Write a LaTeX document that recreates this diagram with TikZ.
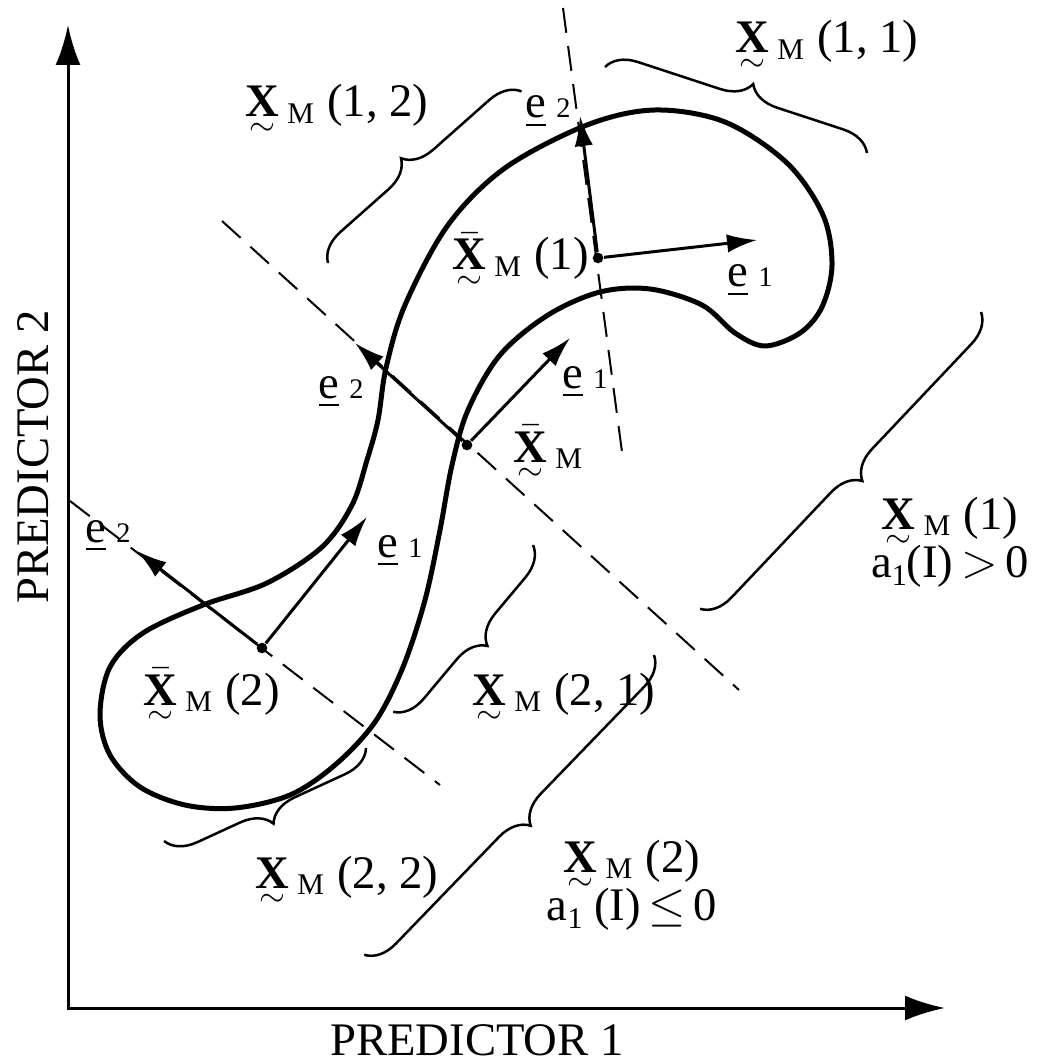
\documentclass[tikz,border=0pt]{standalone}
\usepackage{amsmath}
\usepackage{fontspec}
\setmainfont{Liberation Serif}
\usetikzlibrary{arrows.meta,decorations.pathreplacing}

\newcommand{\tld}[1]{\leavevmode\setbox0\hbox{#1}\rlap{\hbox to\wd0{\hss\raisebox{-5.6pt}[0pt][0pt]{$\scriptstyle\sim$}\hss}}\box0}
\newcommand{\tX}{\tld{\textbf{X}}}
\newcommand{\tXb}{\tld{$\bar{\textbf{X}}$}}
\newcommand{\sM}{\hspace{2.4pt}\raisebox{-2pt}{\fontsize{9}{9}\selectfont M}\hspace{4pt}}
\newcommand{\ev}[1]{\underline{e}\hspace{3pt}{\fontsize{8.5}{9}\selectfont #1}}
\newcommand{\aI}{a\raisebox{-2.5pt}{\fontsize{9}{9}\selectfont 1}}

\begin{document}
\begin{tikzpicture}[x=0.3pt,y=-0.3pt,
  lab/.style={font=\fontsize{14}{14.4}\selectfont,inner sep=0pt,anchor=base west},
  ctr/.style={circle,fill,inner sep=0pt,minimum size=3.2pt},
  vec/.style={-{Latex[length=9pt,width=5.5pt]},line width=0.9pt},
  cut/.style={dash pattern=on 7.5pt off 4pt,line width=0.6pt},
  brc/.style={decorate,decoration={brace,amplitude=9pt,aspect=#1},line width=0.75pt},
  brc/.default=0.5,
  blob/.style={line width=1.5pt,line join=round},
  axis/.style={line width=0.9pt,{Latex[length=12pt,width=7.5pt]}-{Latex[length=12pt,width=7.5pt]}}]
  \useasboundingbox (0,0) rectangle (1044,1063);
  % axes
  \coordinate (O) at (68,1008);
  \coordinate (ytip) at (68,25);
  \coordinate (xtip) at (945,1008);
  \draw[axis] (ytip) -- (O) -- (xtip);
  \node[font=\fontsize{14}{16}\selectfont,rotate=90] (p2) at (33,457) {PREDICTOR 2};
  \node[font=\fontsize{14}{16}\selectfont] (p1) at (477,1040) {PREDICTOR 1};
  % population outline
  \draw[blob] plot[smooth cycle,tension=0.55] coordinates {
    (587,125) (655,110) (725,122) (787,163) (823,215) (832,265) (822,307)
    (800,333) (765,346) (735,333) (702,305) (650,289) (600,292) (548,315)
    (500,355) (468,410) (452,465) (440,530) (425,600) (403,667) (375,722)
    (335,765) (290,795) (235,808) (185,805) (140,787) (110,755) (100,715)
    (110,667) (143,633) (203,605) (267,583) (322,547) (352,505) (367,460)
    (378,420) (386,368) (405,305) (448,225) (505,168)};
  % splitting lines
  \coordinate (d1a) at (563,8);   \coordinate (d1b) at (622,452);
  \coordinate (d0a) at (222,221); \coordinate (d0b) at (739,690);
  \coordinate (d2a) at (70,501);  \coordinate (d2b) at (440,785);
  \draw[cut] (d1a) -- (d1b);
  \draw[cut] (d0a) -- (d0b);
  \draw[cut] (d2a) -- (d2b);
  % centres and eigenvectors
  \node[ctr] (c1) at (598,258) {};
  \node[ctr] (c0) at (467,445) {};
  \node[ctr] (c2) at (262,648) {};
  \coordinate (t12) at (580,116); \coordinate (t11) at (757,240);
  \coordinate (t02) at (355,343); \coordinate (t01) at (570,338);
  \coordinate (t22) at (137,551); \coordinate (t21) at (367,517);
  \draw[vec] (c1) -- (t12);
  \draw[vec] (c1) -- (t11);
  \draw[vec] (c0) -- (t02);
  \draw[vec] (c0) -- (t01);
  \draw[vec] (c2) -- (t22);
  \draw[vec] (c2) -- (t21);
  \node[lab] (e12) at (525,118) {\ev{2}};
  \node[lab] (e11) at (727,287) {\ev{1}};
  \node[lab] (e02) at (318,398) {\ev{2}};
  \node[lab] (e01) at (562,388) {\ev{1}};
  \node[lab] (e22) at (85,542) {\ev{2}};
  \node[lab] (e21) at (377,557) {\ev{1}};
  \node[lab] (m1) at (452,270) {\tXb\sM(1)};
  \node[lab] (m0) at (513,462) {\tXb\sM};
  \node[lab] (m2) at (143,705) {\tXb\sM(2)};
  % braces
  \coordinate (b12a) at (328,263); \coordinate (b12b) at (522,91);
  \coordinate (b11a) at (605,67);  \coordinate (b11b) at (867,153);
  \coordinate (b1a) at (981,312);  \coordinate (b1b) at (699,610);
  \coordinate (b21a) at (533,545); \coordinate (b21b) at (393,712);
  \coordinate (b22a) at (366,748); \coordinate (b22b) at (164,841);
  \coordinate (b2a) at (654,655);  \coordinate (b2b) at (364,955);
  \draw[brc=0.48] (b12a) -- (b12b);
  \draw[brc=0.53] (b11a) -- (b11b);
  \draw[brc] (b1a) -- (b1b);
  \draw[brc=0.49] (b21a) -- (b21b);
  \draw[brc=0.52] (b22a) -- (b22b);
  \draw[brc] (b2a) -- (b2b);
  \node[lab] (s12) at (245,117) {\tX\sM(1, 2)};
  \node[lab] (s11) at (735,53) {\tX\sM(1, 1)};
  \node[lab] (s21) at (472,705) {\tX\sM(2, 1)};
  \node[lab] (s22) at (255,888) {\tX\sM(2, 2)};
  \node[lab,anchor=base,align=center] (s1) at (950,577) {\tX\sM(1)\\ \aI(I)\,$>$\,0};
  \node[lab,anchor=base,align=center] (s2) at (632,920) {\tX\sM(2)\\ \aI\ (I)\,$\leq$\,0};
\end{tikzpicture}
\end{document}
